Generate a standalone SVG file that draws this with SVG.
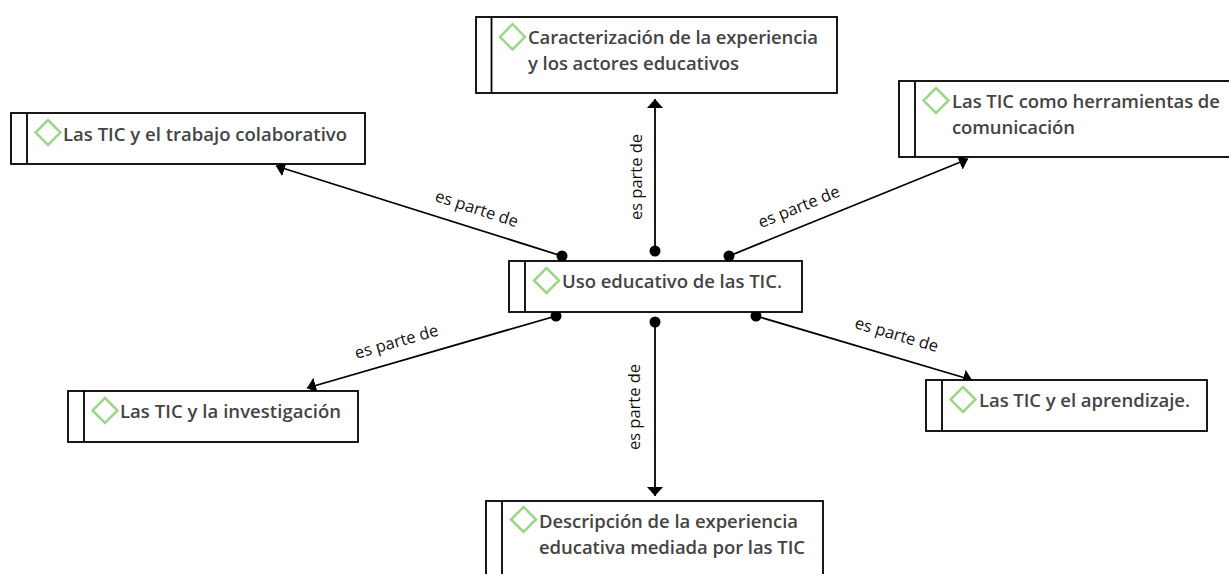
<svg xmlns="http://www.w3.org/2000/svg" width="1229" height="574" viewBox="0 0 1229 574">
<defs>
<marker id="a" markerUnits="userSpaceOnUse" markerWidth="12" markerHeight="18" refX="9" refY="8" orient="auto"><path d="M0 0L9 8L0 16Z" fill="#000"/></marker>
<marker id="d" markerUnits="userSpaceOnUse" markerWidth="14" markerHeight="14" refX="6" refY="6"><circle cx="6" cy="6" r="5.500" fill="#000"/></marker>
</defs>
<style>
text{font-family:"Open Sans","Noto Sans",sans-serif}
.n{font-size:18.500px;font-weight:600;fill:#444}
.l{font-size:16.500px;fill:#111}
.b{fill:#fff;stroke:#000;stroke-width:1.800}
.s{fill:none;stroke:#000;stroke-width:1.800}
.g{fill:#fff;stroke:#9cd68b;stroke-width:2.500}
.c{fill:none;stroke:#000;stroke-width:1.800;marker-start:url(#d);marker-end:url(#a)}
</style>
<rect width="1229" height="574" fill="#fff"/>
<g id="connectors">
<path class="c" d="M562 256L276 166"/>
<path class="c" d="M655 251L655 99"/>
<path class="c" d="M729 256L968 159"/>
<path class="c" d="M556 316L307 388"/>
<path class="c" d="M655 322L655 496"/>
<path class="c" d="M756 316L972 380"/>
<text class="l" transform="translate(475 214) rotate(18)" text-anchor="middle">es parte de</text>
<text class="l" transform="translate(642 177) rotate(-90)" text-anchor="middle">es parte de</text>
<text class="l" transform="translate(801 212) rotate(-22)" text-anchor="middle">es parte de</text>
<text class="l" transform="translate(398 347) rotate(-16)" text-anchor="middle">es parte de</text>
<text class="l" transform="translate(640 407) rotate(-90)" text-anchor="middle">es parte de</text>
<text class="l" transform="translate(895 340) rotate(16.500)" text-anchor="middle">es parte de</text>
</g>
<g id="n1"><rect class="b" x="476" y="17" width="361" height="76"/><path class="s" d="M491.500 17V93"/><path class="g" d="M512.500 24L525 37L512.500 49.500L500 37Z"/><text class="n" x="528" y="44" textLength="290">Caracterización de la experiencia</text><text class="n" x="528" y="70" textLength="211">y los actores educativos</text></g>
<g id="n2"><rect class="b" x="899" y="81" width="340" height="76"/><path class="s" d="M915 81V157"/><path class="g" d="M936 88L948.500 100.500L936 113L923.500 100.500Z"/><text class="n" x="952" y="108" textLength="268">Las TIC como herramientas de</text><text class="n" x="952" y="134" textLength="123">comunicación</text></g>
<g id="n3"><rect class="b" x="11" y="113" width="354" height="51"/><path class="s" d="M27 113V164"/><path class="g" d="M48 120L60.500 132.500L48 145L35.500 132.500Z"/><text class="n" x="63" y="141" textLength="284">Las TIC y el trabajo colaborativo</text></g>
<g id="n4"><rect class="b" x="509" y="261" width="293" height="51"/><path class="s" d="M525 261V312"/><path class="g" d="M546.500 268L559 280.500L546.500 293L534 280.500Z"/><text class="n" x="562" y="288" textLength="220">Uso educativo de las TIC.</text></g>
<g id="n5"><rect class="b" x="68" y="391" width="290" height="51"/><path class="s" d="M84 391V442"/><path class="g" d="M105 398L117.500 410.500L105 423L92.500 410.500Z"/><text class="n" x="120" y="418" textLength="221">Las TIC y la investigación</text></g>
<g id="n6"><rect class="b" x="926" y="380" width="281" height="51"/><path class="s" d="M942 380V431"/><path class="g" d="M963 387L975.500 399.500L963 412L950.500 399.500Z"/><text class="n" x="979" y="407" textLength="211">Las TIC y el aprendizaje.</text></g>
<g id="n7"><rect class="b" x="486" y="501" width="337" height="76"/><path class="s" d="M502 501V577"/><path class="g" d="M523.500 507L536 519.500L523.500 532L511 519.500Z"/><text class="n" x="539" y="528" textLength="259">Descripción de la experiencia</text><text class="n" x="539" y="554" textLength="266">educativa mediada por las TIC</text></g>
</svg>
